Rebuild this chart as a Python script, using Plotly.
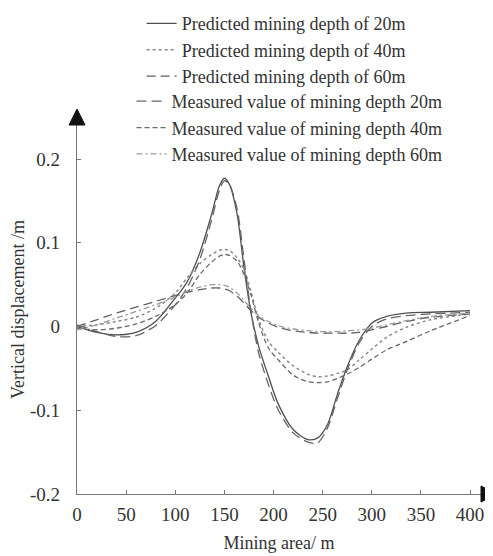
import plotly.graph_objects as go

# ---- data ----
mining_area = [0, 20, 40, 60, 80, 100, 112, 125, 137, 145, 150, 155, 163, 170, 177,
               185, 195, 205, 220, 235, 245, 255, 265, 275, 287, 300, 315, 335, 360, 400]

pred_20 = [0.000, -0.007, -0.010, -0.007, 0.006, 0.034, 0.053, 0.088, 0.134, 0.168, 0.177,
           0.170, 0.134, 0.070, 0.017, -0.024, -0.060, -0.093, -0.123, -0.135, -0.133,
           -0.117, -0.081, -0.048, -0.017, 0.004, 0.012, 0.016, 0.017, 0.019]
pred_40 = [0.000, 0.002, 0.006, 0.011, 0.022, 0.040, 0.058, 0.075, 0.086, 0.091, 0.092,
           0.091, 0.082, 0.068, 0.042, 0.008, -0.018, -0.031, -0.047, -0.057, -0.060,
           -0.059, -0.056, -0.052, -0.040, -0.027, -0.013, -0.001, 0.008, 0.015]
pred_60 = [0.000, 0.008, 0.016, 0.023, 0.030, 0.037, 0.041, 0.044, 0.046, 0.046, 0.045,
           0.043, 0.036, 0.028, 0.019, 0.011, 0.004, -0.001, -0.005, -0.007, -0.008,
           -0.008, -0.008, -0.008, -0.007, -0.004, 0.000, 0.006, 0.011, 0.015]
meas_20 = [0.002, -0.006, -0.012, -0.011, 0.001, 0.026, 0.046, 0.080, 0.127, 0.163, 0.174,
           0.170, 0.140, 0.080, 0.018, -0.032, -0.070, -0.100, -0.127, -0.138, -0.139,
           -0.121, -0.086, -0.052, -0.020, 0.000, 0.009, 0.013, 0.015, 0.017]
meas_40 = [-0.002, -0.004, -0.002, 0.003, 0.012, 0.026, 0.040, 0.062, 0.077, 0.084, 0.086,
           0.085, 0.078, 0.062, 0.038, 0.004, -0.026, -0.040, -0.058, -0.066, -0.067,
           -0.066, -0.062, -0.057, -0.049, -0.039, -0.028, -0.018, -0.005, 0.013]
meas_60 = [-0.004, 0.002, 0.010, 0.018, 0.026, 0.035, 0.042, 0.047, 0.050, 0.050, 0.049,
           0.047, 0.040, 0.031, 0.022, 0.013, 0.006, 0.001, -0.003, -0.005, -0.006,
           -0.006, -0.006, -0.005, -0.004, -0.002, 0.002, 0.007, 0.012, 0.016]

x_ticks = [0, 50, 100, 150, 200, 250, 300, 350, 400]
y_ticks = [-0.2, -0.1, 0, 0.1, 0.2]
y_tick_text = ["-0.2", "-0.1", "0", "0.1", "0.2"]

series = [
    ("Predicted mining depth of 20m", pred_20, "#505050", "solid", 1.3, "legend"),
    ("Predicted mining depth of 40m", pred_40, "#8a8a8a", "dot", 1.5, "legend"),
    ("Predicted mining depth of 60m", pred_60, "#606060", "9px,5px", 1.3, "legend"),
    ("Measured value of mining depth 20m", meas_20, "#656565", "10px,5px", 1.3, "legend2"),
    ("Measured value of mining depth 40m", meas_40, "#6a6a6a", "5px,3px", 1.3, "legend2"),
    ("Measured value of mining depth 60m", meas_60, "#9a9a9a", "6px,3px,2px,3px", 1.3, "legend2"),
]

FONT = "Liberation Serif"

fig = go.Figure()
for name, ys, color, dash, width, leg in series:
    fig.add_trace(go.Scatter(
        x=mining_area, y=ys, mode="lines", name=name, legend=leg,
        line=dict(color=color, dash=dash, width=width, shape="spline", smoothing=0.8),
    ))

# the page body adds an 8px margin, so the figure is 8px smaller than the window
W, H = 485, 548
ML, MR, MT, MB = 69, 12, 117, 62
plot_w = W - ML - MR
x_right = plot_w / 0.9825

fig.update_layout(
    width=W, height=H,
    margin=dict(l=ML, r=MR, t=MT, b=MB, pad=0, autoexpand=False),
    paper_bgcolor="white", plot_bgcolor="white",
    font=dict(family=FONT, size=18, color="#333333"),
    showlegend=True,
    legend=dict(x=0.16, y=1.325, xanchor="left", yanchor="top",
                bgcolor="rgba(0,0,0,0)", font=dict(size=18, family=FONT, color="#333333"),
                itemwidth=30),
    legend2=dict(x=0.135, y=1.114, xanchor="left", yanchor="top",
                 bgcolor="rgba(0,0,0,0)", font=dict(size=18, family=FONT, color="#333333"),
                 itemwidth=30),
    xaxis=dict(range=[0, x_right], tickvals=x_ticks, showgrid=False, zeroline=False,
               automargin=False,
               showline=True, linecolor="#777777", linewidth=1.3,
               ticks="inside", ticklen=4, tickcolor="#777777",
               tickfont=dict(size=19, family=FONT, color="#333333"),
               ticklabelstandoff=3,
               title=dict(text="Mining area/ m", font=dict(size=18, family=FONT), standoff=12)),
    yaxis=dict(range=[-0.2, 0.2406], tickvals=y_ticks, ticktext=y_tick_text,
               showgrid=False, zeroline=False, automargin=False,
               showline=True, linecolor="#777777", linewidth=1.3,
               ticks="inside", ticklen=4, tickcolor="#777777",
               tickfont=dict(size=19, family=FONT, color="#333333"),
               ticklabelstandoff=12,
               title=dict(text="Vertical displacement /m", font=dict(size=18, family=FONT), standoff=0)),
)

# axis arrow heads
fig.add_shape(type="path", xref="paper", yref="paper", xsizemode="pixel", ysizemode="pixel",
              xanchor=0, yanchor=1, path="M-8,0 L0,16 L8,0 Z",
              fillcolor="#111111", line=dict(color="#111111", width=1))
fig.add_shape(type="path", xref="paper", yref="paper", xsizemode="pixel", ysizemode="pixel",
              xanchor=1, yanchor=0, path="M0,-8 L16,0 L0,8 Z",
              fillcolor="#111111", line=dict(color="#111111", width=1))

fig.write_html("out.html")
